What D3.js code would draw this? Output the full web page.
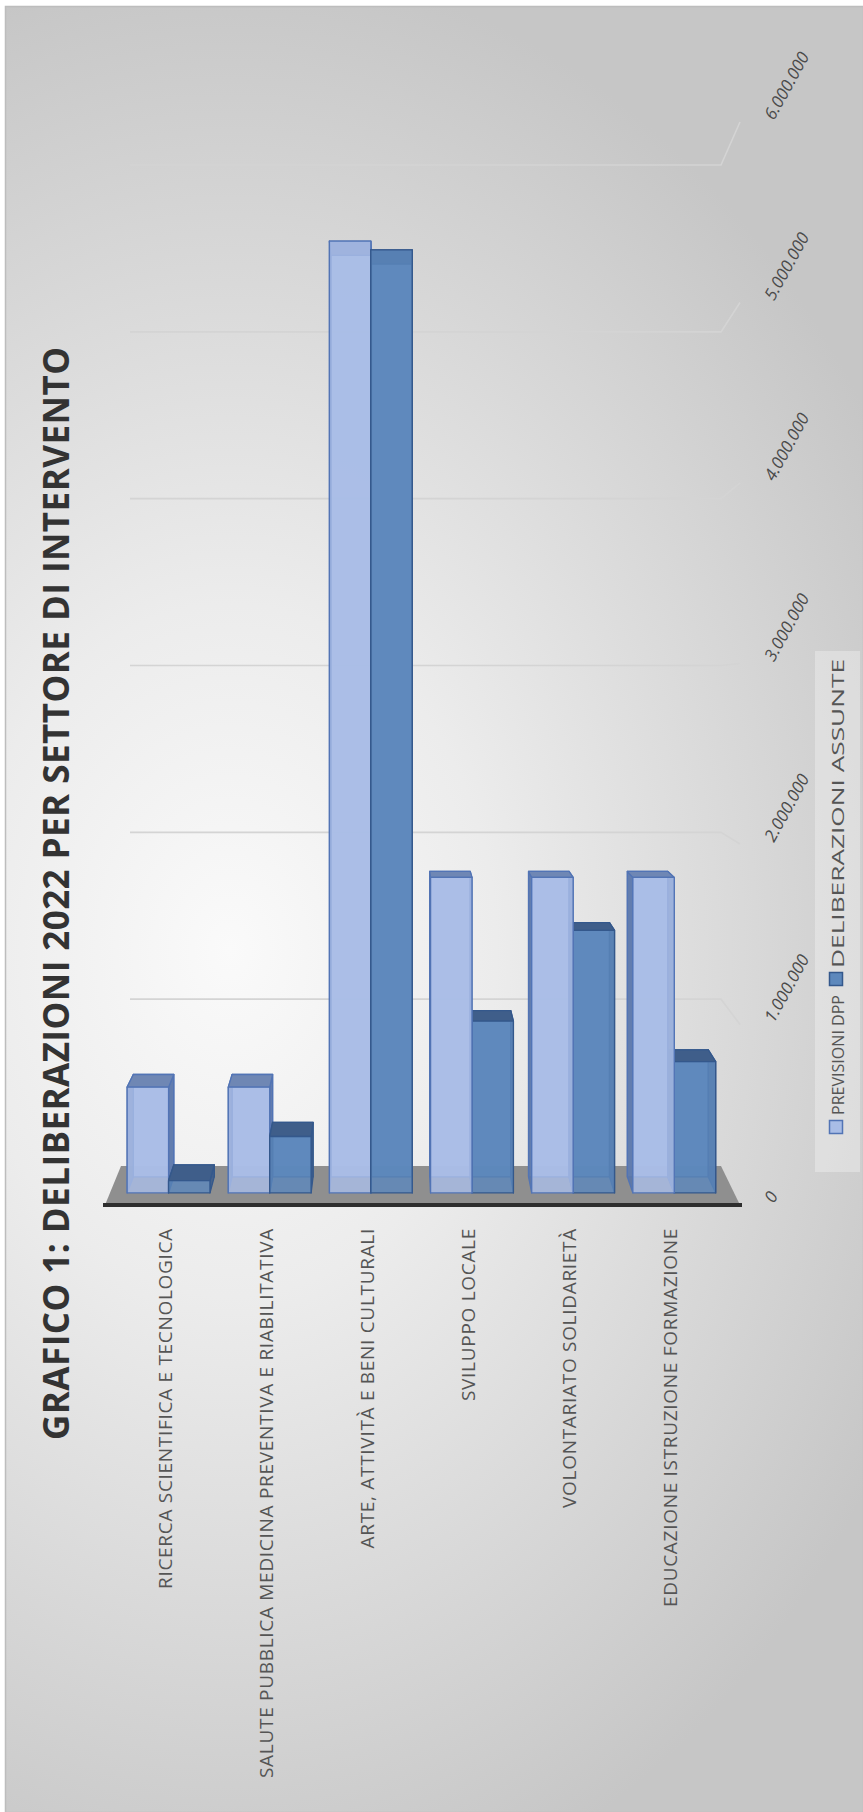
<!DOCTYPE html>
<html>
<head>
<meta charset="utf-8">
<script src="https://cdn.jsdelivr.net/npm/d3@7"></script>
<style>
  html, body { margin: 0; padding: 0; background: #fff; }
  svg { display: block; }
</style>
</head>
<body>
<svg id="chart" width="863" height="1812"></svg>
<script>
// ---- data ----
const categories = [
  "RICERCA SCIENTIFICA E TECNOLOGICA",
  "SALUTE PUBBLICA MEDICINA PREVENTIVA E RIABILITATIVA",
  "ARTE, ATTIVITÀ E BENI CULTURALI",
  "SVILUPPO LOCALE",
  "VOLONTARIATO SOLIDARIETÀ",
  "EDUCAZIONE ISTRUZIONE FORMAZIONE"
];
const seriesNames = ["PREVISIONI DPP", "DELIBERAZIONI ASSUNTE"];
const previsioniDPP = [600000, 600000, 5400000, 1790000, 1790000, 1790000];
const deliberazioniAssunte = [70000, 320000, 5350000, 975000, 1490000, 745000];
const valueTicks = [0, 1000000, 2000000, 3000000, 4000000, 5000000, 6000000];
const titleText = "GRAFICO 1: DELIBERAZIONI 2022 PER SETTORE DI INTERVENTO";

// ---- setup ----
const W = 863, H = 1812;
const svg = d3.select("#chart");
const defs = svg.append("defs");

const bgGrad = defs.append("radialGradient")
  .attr("id", "bgGrad")
  .attr("gradientUnits", "userSpaceOnUse")
  .attr("cx", 230).attr("cy", 950).attr("r", 760)
  .attr("gradientTransform", "translate(230,950) scale(1,1.3) translate(-230,-950)");
bgGrad.append("stop").attr("offset", 0).attr("stop-color", "#fafafa");
bgGrad.append("stop").attr("offset", 0.35).attr("stop-color", "#ececec");
bgGrad.append("stop").attr("offset", 1).attr("stop-color", "#c6c6c6");

svg.append("rect").attr("width", W).attr("height", H).attr("fill", "#ffffff");
svg.append("rect")
  .attr("x", 5.5).attr("y", 6.5).attr("width", W - 5).attr("height", H - 6)
  .attr("fill", "url(#bgGrad)")
  .attr("stroke", "#bdbdbd").attr("stroke-width", 1.5);

// ---- 3D projection: value axis runs up the page, depth t: 0 = front, 1 = back wall ----
const yFront = d3.scaleLinear().domain([0, 6000000]).range([1205, 122]);
const yBack  = d3.scaleLinear().domain([0, 6000000]).range([1166, 165]);
const xFront = d3.scaleLinear().domain([0, 1]).range([105, 740]);
const xBack  = d3.scaleLinear().domain([0, 1]).range([121, 721]);
function P(w, v, t) {
  const xf = xFront(w), xb = xBack(w), yf = yFront(v), yb = yBack(v);
  return [xf + (xb - xf) * t, yf + (yb - yf) * t];
}
const poly = d3.line().curve(d3.curveLinearClosed);

const band = d3.scaleBand().domain(categories).range([0.006, 0.992])
  .paddingInner(0.181).paddingOuter(0.133);
const sub = d3.scaleBand().domain(seriesNames).range([0, band.bandwidth()]);

const tFrontBar = 0.31, tBackBar = 0.72;

// ---- gridlines on back wall and right side wall ----
const grid = svg.append("g");
valueTicks.filter(v => v > 0).forEach(v => {
  const pts = [P(0.015, v, 1), P(1, v, 1), P(1, v, 0)];
  grid.append("path")
    .attr("d", d3.line()(pts))
    .attr("fill", "none")
    .attr("stroke", "#d4d4d4")
    .attr("stroke-width", 1.6);
});

// ---- floor ----
svg.append("path")
  .attr("d", poly([P(0, 0, 0), P(1, 0, 0), P(1, 0, 1), P(0, 0, 1)]))
  .attr("fill", "#8f8f8f");
svg.append("line")
  .attr("x1", P(0, 0, 0)[0] - 2).attr("y1", P(0, 0, 0)[1])
  .attr("x2", P(1, 0, 0)[0] + 2).attr("y2", P(1, 0, 0)[1])
  .attr("stroke", "#2e2e2e").attr("stroke-width", 4);

// ---- bars ----
const styles = {
  "PREVISIONI DPP":        { front: "#a9bde6", back: "#a9bde6", side: "#5a76a8", top: "#6f87b4", stroke: "#5274b5" },
  "DELIBERAZIONI ASSUNTE": { front: "#5d88bc", back: "#5d88bc", side: "#3e5d8a", top: "#3f5e8a", stroke: "#34588c" }
};
const seriesValues = { "PREVISIONI DPP": previsioniDPP, "DELIBERAZIONI ASSUNTE": deliberazioniAssunte };

const bars = [];
categories.forEach((c, i) => {
  seriesNames.forEach(s => {
    const x0 = band(c) + sub(s);
    bars.push({ c, s, x0, x1: x0 + sub.bandwidth(), v: seriesValues[s][i] });
  });
});
// paint bars farther from the vanishing column first
const vanishW = (xBack(0) - xFront(0)) / ((xFront(1) - xFront(0)) - (xBack(1) - xBack(0)));
bars.sort((a, b) => Math.abs(b.x0 + b.x1 - 2 * vanishW) - Math.abs(a.x0 + a.x1 - 2 * vanishW));

const barG = svg.append("g");
bars.forEach(b => {
  const st = styles[b.s];
  const g = barG.append("g").attr("stroke", st.stroke).attr("stroke-width", 1.3).attr("stroke-linejoin", "round");
  const tf = tFrontBar, tb = tBackBar, { x0, x1, v } = b;
  g.append("path").attr("d", poly([P(x0, 0, tb), P(x1, 0, tb), P(x1, v, tb), P(x0, v, tb)]))
    .attr("fill", st.back).attr("fill-opacity", 0.9);
  g.append("path").attr("d", poly([P(x0, 0, tf), P(x0, 0, tb), P(x0, v, tb), P(x0, v, tf)]))
    .attr("fill", st.side).attr("fill-opacity", 0.9);
  g.append("path").attr("d", poly([P(x1, 0, tf), P(x1, 0, tb), P(x1, v, tb), P(x1, v, tf)]))
    .attr("fill", st.side).attr("fill-opacity", 0.9);
  g.append("path").attr("d", poly([P(x0, v, tf), P(x1, v, tf), P(x1, v, tb), P(x0, v, tb)]))
    .attr("fill", st.top);
  g.append("path").attr("d", poly([P(x0, 0, tf), P(x1, 0, tf), P(x1, v, tf), P(x0, v, tf)]))
    .attr("fill", st.front).attr("fill-opacity", 0.82);
});

// ---- value axis labels ----
const fmt = d3.formatLocale({ decimal: ",", thousands: ".", grouping: [3], currency: ["€", ""] }).format(",d");
const tickG = svg.append("g")
  .attr("font-family", "'Open Sans', sans-serif")
  .attr("font-style", "italic")
  .attr("font-size", 17)
  .attr("fill", "#4a4a4a");
valueTicks.forEach(v => {
  tickG.append("text")
    .attr("transform", `translate(${774},${yFront(v) - 1}) rotate(-61)`)
    .text(fmt(v));
});

// ---- category labels ----
const catG = svg.append("g")
  .attr("font-family", "'Open Sans', sans-serif")
  .attr("font-size", 19)
  .attr("letter-spacing", 0.7)
  .attr("fill", "#555555");
categories.forEach(c => {
  const cx = P(band(c) + band.bandwidth() / 2, 0, tFrontBar)[0] - 4;
  catG.append("text")
    .attr("transform", `translate(${cx},${1228}) rotate(-90)`)
    .attr("text-anchor", "end")
    .attr("dominant-baseline", "central")
    .text(c);
});

// ---- title ----
svg.append("text")
  .attr("transform", `translate(${55},${1440}) rotate(-90)`)
  .attr("dominant-baseline", "central")
  .attr("font-family", "'Open Sans', sans-serif")
  .attr("font-weight", "bold")
  .attr("font-size", 35)
  .attr("fill", "#333333")
  .attr("textLength", 1093)
  .attr("lengthAdjust", "spacing")
  .text(titleText);

// ---- legend ----
const leg = svg.append("g");
leg.append("rect").attr("x", 815).attr("y", 651).attr("width", 45).attr("height", 521)
  .attr("fill", "#ffffff").attr("fill-opacity", 0.3);
const legItems = [
  { mark: 1127, start: 1115, end: 995 },
  { mark: 979, start: 968, end: 659 }
];
seriesNames.forEach((s, i) => {
  const st = styles[s], it = legItems[i];
  leg.append("rect")
    .attr("x", 836 - 6.5).attr("y", it.mark - 6.5).attr("width", 13).attr("height", 13)
    .attr("fill", st.front).attr("stroke", st.stroke).attr("stroke-width", 1.5);
  leg.append("text")
    .attr("transform", `translate(${837},${it.start}) rotate(-90)`)
    .attr("dominant-baseline", "central")
    .attr("font-family", "'Open Sans', sans-serif")
    .attr("font-size", 17)
    .attr("fill", "#555555")
    .attr("textLength", it.start - it.end)
    .attr("lengthAdjust", "spacingAndGlyphs")
    .text(s);
});
</script>
</body>
</html>
